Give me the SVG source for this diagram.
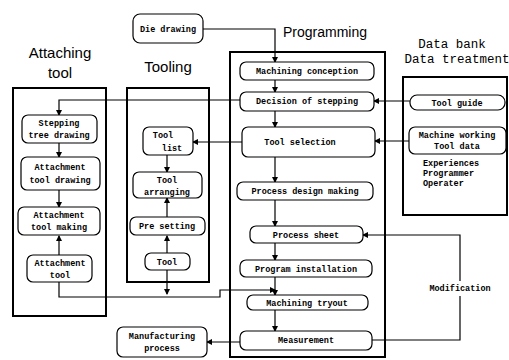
<svg xmlns="http://www.w3.org/2000/svg" width="509" height="360" viewBox="0 0 509 360">
<style>
.frame{fill:none;stroke:#000;stroke-width:2}
.box{fill:#fff;stroke:#000;stroke-width:1.2}
.t{font-family:"Liberation Mono","DejaVu Sans Mono",monospace;font-size:8.5px;font-weight:bold;text-anchor:middle;fill:#000}
.tl{font-family:"Liberation Mono","DejaVu Sans Mono",monospace;font-size:8.5px;font-weight:bold;fill:#000}
.title{font-family:"Liberation Sans","DejaVu Sans",sans-serif;font-size:15px;text-anchor:middle;fill:#000}
.mtitle{font-family:"Liberation Mono","DejaVu Sans Mono",monospace;font-size:12.5px;text-anchor:middle;fill:#000}
.c{fill:none;stroke:#000;stroke-width:1.2}
</style>
<defs>
<marker id="ah" markerWidth="6" markerHeight="6" refX="5" refY="3" orient="auto" markerUnits="userSpaceOnUse">
<path d="M0,0 L6,3 L0,6 Z" fill="#000"/>
</marker>
</defs>
<rect width="509" height="360" fill="#fff"/>

<!-- frames and titles -->
<g id="frame-attaching">
<rect class="frame" x="13" y="88" width="93" height="228"/>
<text class="title" x="60" y="58">Attaching</text>
<text class="title" x="60" y="78">tool</text>
</g>
<g id="frame-tooling">
<rect class="frame" x="127" y="88" width="82" height="194"/>
<text class="title" x="168" y="72">Tooling</text>
</g>
<g id="frame-programming">
<rect class="frame" x="230" y="52" width="155" height="305"/>
<text class="title" x="325" y="37" style="font-size:14px">Programming</text>
</g>
<g id="frame-databank">
<rect class="frame" x="403" y="77" width="104" height="138"/>
<text class="mtitle" x="452" y="48">Data bank</text>
<text class="mtitle" x="457" y="63">Data treatment</text>
</g>

<!-- connectors -->
<g id="connectors">
<polyline class="c" points="203,29 275,29 275,62" marker-end="url(#ah)"/>
<line class="c" x1="275" y1="80" x2="275" y2="92" marker-end="url(#ah)"/>
<line class="c" x1="275" y1="111" x2="275" y2="127" marker-end="url(#ah)"/>
<line class="c" x1="275" y1="157" x2="275" y2="182" marker-end="url(#ah)"/>
<line class="c" x1="275" y1="200" x2="275" y2="226" marker-end="url(#ah)"/>
<line class="c" x1="275" y1="243" x2="275" y2="260" marker-end="url(#ah)"/>
<line class="c" x1="275" y1="277" x2="275" y2="295" marker-end="url(#ah)"/>
<line class="c" x1="275" y1="310" x2="275" y2="331" marker-end="url(#ah)"/>
<line class="c" x1="240" y1="342" x2="207" y2="342" marker-end="url(#ah)"/>
<polyline class="c" points="372,340 460,340 460,296"/>
<polyline class="c" points="460,281 460,235 363,235" marker-end="url(#ah)"/>
<line class="c" x1="410" y1="101" x2="374" y2="101" marker-end="url(#ah)"/>
<line class="c" x1="409" y1="141" x2="375" y2="141" marker-end="url(#ah)"/>
<line class="c" x1="242" y1="142" x2="193" y2="142" marker-end="url(#ah)"/>
<polyline class="c" points="240,100 59,100 59,115" marker-end="url(#ah)"/>
<line class="c" x1="59" y1="143" x2="59" y2="157" marker-end="url(#ah)"/>
<line class="c" x1="59" y1="190" x2="59" y2="207" marker-end="url(#ah)"/>
<line class="c" x1="59" y1="255" x2="59" y2="236" marker-end="url(#ah)"/>
<line class="c" x1="167" y1="155" x2="167" y2="172" marker-end="url(#ah)"/>
<line class="c" x1="167" y1="217" x2="167" y2="198" marker-end="url(#ah)"/>
<line class="c" x1="167" y1="253" x2="167" y2="236" marker-end="url(#ah)"/>
<line class="c" x1="167" y1="270" x2="167" y2="294" marker-end="url(#ah)"/>
<polyline class="c" points="59,282 59,297 220,297 220,290 275,290" marker-end="url(#ah)"/>
</g>

<!-- nodes -->
<g id="die-drawing"><rect class="box" x="133" y="14" width="70" height="29" rx="7"/><text class="t" x="168" y="32">Die drawing</text></g>

<g id="stepping-tree"><rect class="box" x="22" y="115" width="75" height="28" rx="6"/><text class="t" x="59" y="126">Stepping</text><text class="t" x="59" y="138">tree drawing</text></g>
<g id="att-tool-drawing"><rect class="box" x="21" y="157" width="79" height="33" rx="6"/><text class="t" x="60" y="170">Attachment</text><text class="t" x="60" y="183">tool drawing</text></g>
<g id="att-tool-making"><rect class="box" x="18" y="207" width="82" height="28" rx="6"/><text class="t" x="59" y="218">Attachment</text><text class="t" x="59" y="230">tool making</text></g>
<g id="att-tool"><rect class="box" x="27" y="255" width="65" height="27" rx="6"/><text class="t" x="60" y="266">Attachment</text><text class="t" x="60" y="278">tool</text></g>

<g id="tool-list"><rect class="box" x="143" y="127" width="50" height="28" rx="6"/><text class="t" x="163" y="138">Tool</text><text class="t" x="172" y="151">list</text></g>
<g id="tool-arranging"><rect class="box" x="133" y="172" width="69" height="26" rx="6"/><text class="t" x="167" y="183">Tool</text><text class="t" x="167" y="195">arranging</text></g>
<g id="pre-setting"><rect class="box" x="130" y="217" width="75" height="18" rx="6"/><text class="t" x="167" y="229">Pre setting</text></g>
<g id="tool"><rect class="box" x="145" y="253" width="45" height="17" rx="6"/><text class="t" x="167" y="265">Tool</text></g>

<g id="machining-conception"><rect class="box" x="240" y="62" width="134" height="18" rx="6"/><text class="t" x="307" y="74">Machining conception</text></g>
<g id="decision-stepping"><rect class="box" x="240" y="92" width="134" height="19" rx="6"/><text class="t" x="307" y="104">Decision of stepping</text></g>
<g id="tool-selection"><rect class="box" x="242" y="127" width="133" height="30" rx="6"/><text class="t" x="300" y="145">Tool selection</text></g>
<g id="process-design"><rect class="box" x="237" y="182" width="136" height="18" rx="6"/><text class="t" x="305" y="194">Process design making</text></g>
<g id="process-sheet"><rect class="box" x="250" y="226" width="113" height="17" rx="6"/><text class="t" x="306" y="238">Process sheet</text></g>
<g id="program-installation"><rect class="box" x="240" y="260" width="132" height="17" rx="6"/><text class="t" x="306" y="272">Program installation</text></g>
<g id="machining-tryout"><rect class="box" x="247" y="295" width="121" height="15" rx="6"/><text class="t" x="307" y="306">Machining tryout</text></g>
<g id="measurement"><rect class="box" x="240" y="331" width="132" height="19" rx="6"/><text class="t" x="306" y="343">Measurement</text></g>

<g id="manufacturing-process"><rect class="box" x="117" y="327" width="90" height="30" rx="6"/><text class="t" x="162" y="339">Manufacturing</text><text class="t" x="162" y="351">process</text></g>

<g id="tool-guide"><rect class="box" x="410" y="95" width="95" height="15" rx="7"/><text class="t" x="457" y="106">Tool guide</text></g>
<g id="machine-working"><rect class="box" x="409" y="127" width="97" height="27" rx="6"/><text class="t" x="457" y="138">Machine working</text><text class="t" x="457" y="149">Tool data</text></g>
<g id="databank-text"><text class="tl" x="423" y="166">Experiences</text><text class="tl" x="423" y="176">Programmer</text><text class="tl" x="423" y="186">Operater</text></g>

<g id="modification-label"><text class="t" x="460" y="291">Modification</text></g>
</svg>
